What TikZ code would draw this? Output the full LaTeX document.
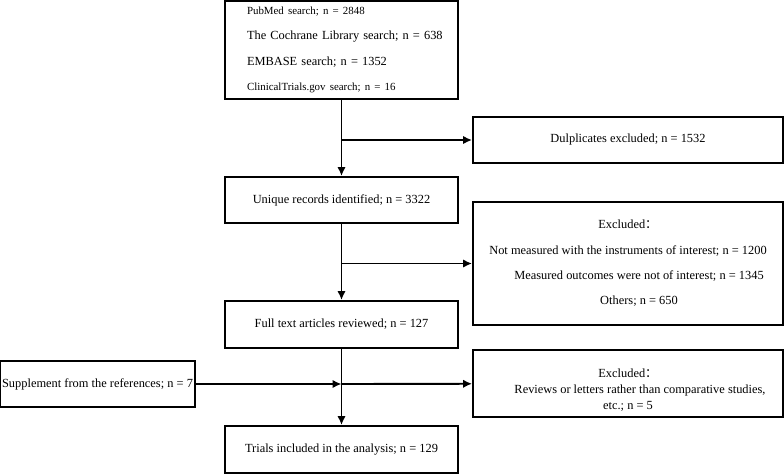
\documentclass[tikz,border=0pt]{standalone}
\usepackage{fontspec}
\setmainfont{Liberation Serif}
\newfontfamily\cjk{Noto Sans CJK SC}
\usetikzlibrary{arrows.meta,positioning,calc}
\tikzset{
  box/.style   ={draw,line width=1.9pt,align=center,inner sep=2pt,
                 font=\fontsize{12.4}{25.3}\selectfont},
  main/.style  ={box,minimum width=233pt,minimum height=46pt},
  side/.style  ={box,minimum width=310pt},
  flow/.style  ={-{Latex[length=9pt,width=8.5pt]},line width=1.9pt},
}
\newcommand{\fcolon}{{\cjk ：}}

\begin{document}
\begin{tikzpicture}[x=1pt,y=-1pt]
  \useasboundingbox (0,0) rectangle (784,474);

  % main column
  \node[box,minimum height=98pt,align=left,text width=229pt] (search) at (341.5,50)
    {\hspace*{20pt}{\fontsize{10.9}{25.3}\selectfont PubMed search; n = 2848}\\
     \hspace*{20pt}The Cochrane Library search; n = 638\\
     \hspace*{20pt}EMBASE search; n = 1352\\
     \hspace*{20pt}{\fontsize{10.9}{25.3}\selectfont ClinicalTrials.gov search; n = 16}};
  \node[main] (unique) at (341.5,200) {Unique records identified; n = 3322};
  \node[main,minimum height=47pt] (full) at (341.5,324.5) {Full text articles reviewed; n = 127};
  \node[main,minimum height=47pt] (trials) at (341.5,449.5) {Trials included in the analysis; n = 129};

  % side boxes
  \node[side,minimum height=46pt] (dup) at (628,140) {Dulplicates excluded; n = 1532};
  \node[side,minimum height=123pt] (excl) at (628,263.5)
    {Excluded\fcolon\\
     Not measured with the instruments of interest; n = 1200\\
     \hspace*{22pt}Measured outcomes were not of interest; n = 1345\\
     \hspace*{22pt}Others; n = 650};
  \node[side,minimum height=67pt,font=\fontsize{12.4}{16}\selectfont] (review) at (628,383.5)
    {\rule{0pt}{22pt}Excluded\fcolon\\
     \hspace*{24pt}Reviews or letters rather than comparative studies,\\
     etc.; n = 5};
  \node[box,minimum width=195pt,minimum height=46pt,inner xsep=0pt] (supp) at (97.5,384)
    {Supplement from the references; n = 7};

  % junctions on the main column
  \coordinate (j1) at (search.south |- dup.west);
  \coordinate (j2) at (unique.south |- excl.west);
  \coordinate (j3) at (full.south |- supp.east);

  \draw[flow] (search) -- (unique);
  \draw[flow] (j1) -- (dup);
  \draw[flow] (unique) -- (full);
  \draw[flow] (j2) -- (excl);
  \draw[flow] (full) -- (trials);
  \draw[flow] (supp) -- (j3);
  \draw[flow] (j3) -- (review);
\end{tikzpicture}
\end{document}
